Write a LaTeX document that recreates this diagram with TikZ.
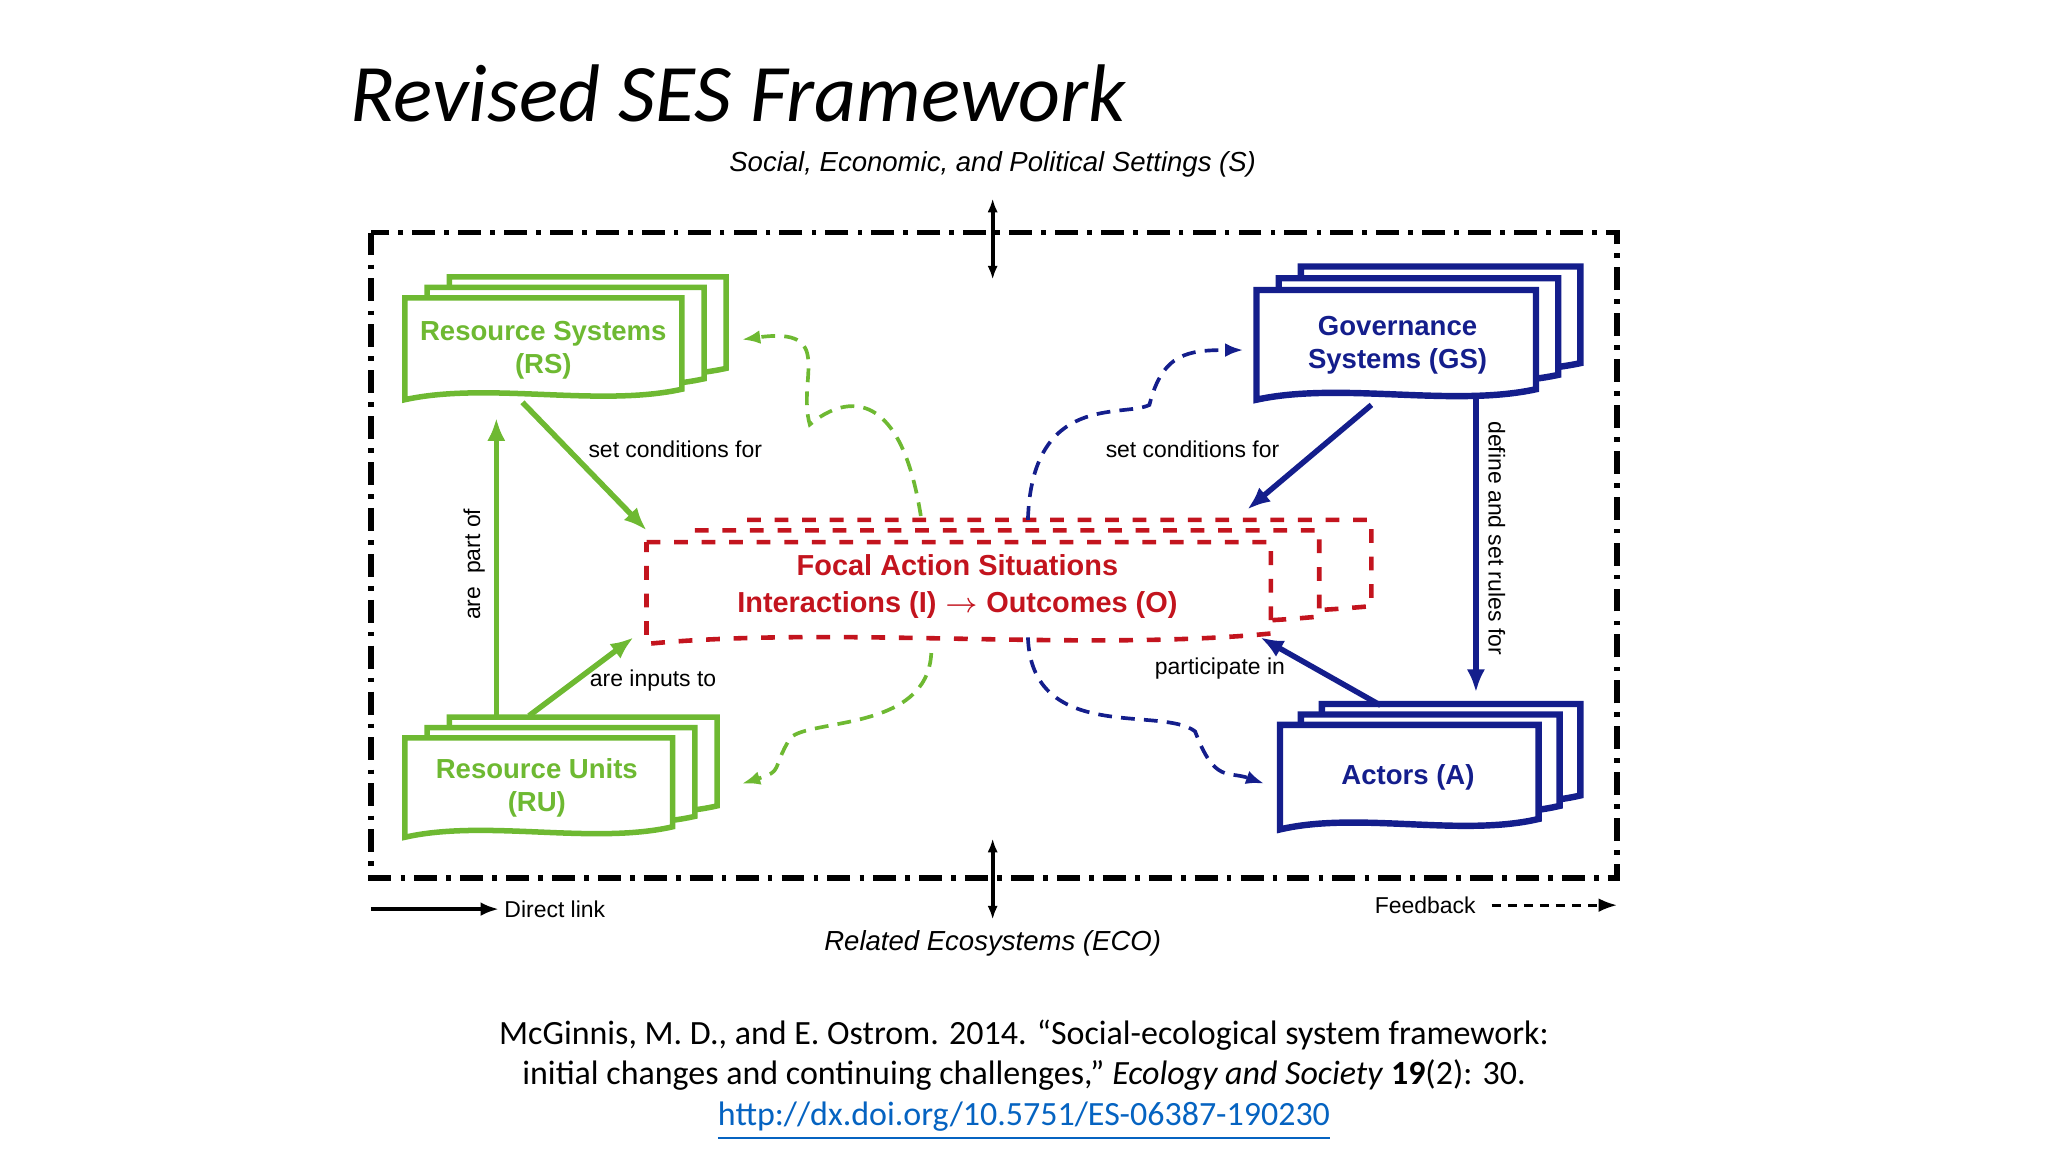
\documentclass[tikz,border=0pt]{standalone}
\usepackage{fontspec}
\setmainfont{Liberation Sans}
\newfontfamily\carl{Carlito}
\usetikzlibrary{calc,arrows.meta}
\definecolor{gr}{RGB}{110,185,50}
\definecolor{bl}{RGB}{20,30,140}
\definecolor{rd}{RGB}{195,20,30}
\definecolor{lk}{RGB}{5,99,193}
\newcommand\docshape[5]{\draw[#5,fill=white] (#1,#2) -- ++(#3,0) -- ++(0,-#4) .. controls +(-0.3*#3,-0.14) and +(0.3*#3,0.14) .. ($(#1,#2)+(0,-#4-0.08)$) -- cycle;}
\tikzset{
 gbox/.style={draw=gr,line width=1.2pt},
 bbox/.style={draw=bl,line width=1.4pt},
 rbox/.style={draw=rd,line width=1pt,dashed},
 lab/.style={font=\fontsize{6}{7.2}\selectfont\bfseries,align=center},
 small/.style={font=\fontsize{5}{6}\selectfont},
 arr/.style={-{Latex[length=5pt,width=4pt]},line width=1.2pt},
 fb/.style={-{Latex[length=4pt,width=3pt]},line width=0.8pt,dash pattern=on 3pt off 2pt},
}
\begin{document}
\begin{tikzpicture}
\useasboundingbox (0,0) rectangle (15.68,-8.82);
\node[anchor=base west,inner sep=0pt,font=\carl\itshape\fontsize{17.8}{20}\selectfont] (title) at (2.68,-0.93) {Revised SES Framework};
\node[font=\itshape\fontsize{6}{7}\selectfont] (S) at (7.60,-1.26) {Social, Economic, and Political Settings (S)};
\draw[line width=1.2pt,dash pattern=on 5pt off 2pt on 1pt off 2pt] (2.84,-1.78) rectangle (12.38,-6.72);
\coordinate (s1) at (7.60,-1.52); \coordinate (s2) at (7.60,-2.14);
\draw[{Latex[length=3pt]}-{Latex[length=3pt]},line width=0.8pt] (s1) -- (s2);
\coordinate (e1) at (7.60,-6.42); \coordinate (e2) at (7.60,-7.04);
\draw[{Latex[length=3pt]}-{Latex[length=3pt]},line width=0.8pt] (e1) -- (e2);
\node[font=\itshape\fontsize{6}{7}\selectfont] (ECO) at (7.60,-7.22) {Related Ecosystems (ECO)};
% RS
\docshape{3.44}{-2.12}{2.12}{0.70}{gbox}
\docshape{3.27}{-2.20}{2.12}{0.70}{gbox}
\docshape{3.10}{-2.28}{2.12}{0.70}{gbox}
\node[lab,text=gr] (RS) at (4.16,-2.68) {Resource Systems\\(RS)};
% RU
\docshape{3.44}{-5.49}{2.05}{0.68}{gbox}
\docshape{3.27}{-5.57}{2.05}{0.68}{gbox}
\docshape{3.10}{-5.65}{2.05}{0.68}{gbox}
\node[lab,text=gr] (RU) at (4.11,-6.03) {Resource Units\\(RU)};
% GS
\docshape{9.96}{-2.04}{2.14}{0.74}{bbox}
\docshape{9.79}{-2.13}{2.14}{0.74}{bbox}
\docshape{9.62}{-2.22}{2.14}{0.76}{bbox}
\node[lab,text=bl] (GS) at (10.70,-2.64) {Governance\\Systems (GS)};
% Actors
\docshape{10.12}{-5.39}{1.98}{0.70}{bbox}
\docshape{9.96}{-5.47}{1.98}{0.70}{bbox}
\docshape{9.80}{-5.55}{1.98}{0.72}{bbox}
\node[lab,text=bl] (A) at (10.78,-5.95) {Actors (A)};
% Focal
\docshape{5.72}{-3.98}{4.78}{0.66}{rbox}
\docshape{5.32}{-4.06}{4.78}{0.66}{rbox}
\docshape{4.95}{-4.15}{4.78}{0.70}{rbox}
\node[lab,text=rd,font=\fontsize{6.3}{8.2}\selectfont\bfseries] (F) at (7.33,-4.49) {Focal Action Situations\\Interactions (I) $\rightarrow$ Outcomes (O)};
% direct arrows
\coordinate (rs1) at (4.00,-3.08); \coordinate (f1) at (4.95,-4.06);
\draw[arr,gr] (rs1) -- (f1);
\node[small] (l1) at (5.17,-3.44) {set conditions for};
\coordinate (ru1) at (4.05,-5.48); \coordinate (f2) at (4.85,-4.88);
\draw[arr,gr] (ru1) -- (f2);
\node[small] (l2) at (5.00,-5.21) {are inputs to};
\coordinate (ru2) at (3.80,-5.48); \coordinate (rs2) at (3.80,-3.20);
\draw[arr,gr] (ru2) -- (rs2);
\node[small,rotate=90] (l3) at (3.63,-4.32) {are \ part of};
\coordinate (gs1) at (10.50,-3.10); \coordinate (f3) at (9.55,-3.90);
\draw[arr,bl] (gs1) -- (f3);
\node[small] (l4) at (9.13,-3.44) {set conditions for};
\coordinate (a1) at (10.57,-5.40); \coordinate (f4) at (9.65,-4.88);
\draw[arr,bl] (a1) -- (f4);
\node[small] (l5) at (9.34,-5.12) {participate in};
\coordinate (gs2) at (11.30,-3.05); \coordinate (a2) at (11.30,-5.30);
\draw[arr,bl] (gs2) -- (a2);
\node[small,rotate=-90] (l6) at (11.46,-4.12) {define and set rules for};
% feedback
\coordinate (g1) at (7.05,-3.95); \coordinate (g2) at (5.68,-2.60);
\draw[fb,gr] (g1) .. controls (6.9,-3.0) and (6.5,-3.0) .. (6.2,-3.25) .. controls (6.1,-2.9) and (6.4,-2.5) .. (g2);
\coordinate (g3) at (7.13,-5.00); \coordinate (g4) at (5.68,-6.00);
\draw[fb,gr] (g3) .. controls (7.1,-5.6) and (6.2,-5.5) .. (6.05,-5.65) .. controls (5.9,-5.9) and (6.0,-5.9) .. (g4);
\coordinate (b1) at (7.87,-3.98); \coordinate (b2) at (9.52,-2.68);
\draw[fb,bl] (b1) .. controls (7.9,-3.0) and (8.6,-3.2) .. (8.8,-3.1) .. controls (8.9,-2.7) and (9.1,-2.68) .. (b2);
\coordinate (b3) at (7.87,-4.88); \coordinate (b4) at (9.68,-6.00);
\draw[fb,bl] (b3) .. controls (7.9,-5.7) and (8.9,-5.4) .. (9.15,-5.6) .. controls (9.3,-6.0) and (9.4,-5.9) .. (b4);
% legend
\coordinate (d1) at (2.84,-6.96); \coordinate (d2) at (3.82,-6.96);
\draw[-{Latex[length=4pt,width=3pt]},line width=0.8pt] (d1) -- (d2);
\node[font=\fontsize{5}{6}\selectfont,anchor=west,inner sep=1pt] (DL) at (3.82,-6.96) {Direct link};
\node[font=\fontsize{5}{6}\selectfont,anchor=east,inner sep=1pt] (FB) at (11.34,-6.93) {Feedback};
\coordinate (k1) at (11.42,-6.93); \coordinate (k2) at (12.38,-6.93);
\draw[-{Latex[length=4pt,width=3pt]},line width=0.6pt,dash pattern=on 2pt off 1.5pt] (k1) -- (k2);
% citation
\node[font=\carl\fontsize{7.4}{8.9}\selectfont,align=center] (cit) at (7.84,-8.27) {McGinnis, M. D., and E. Ostrom. 2014. “Social-ecological system framework:\\initial changes and continuing challenges,” \textit{Ecology and Society} \textbf{19}(2): 30.\\\textcolor{lk}{\underline{http://dx.doi.org/10.5751/ES-06387-190230}}};
\end{tikzpicture}
\end{document}
